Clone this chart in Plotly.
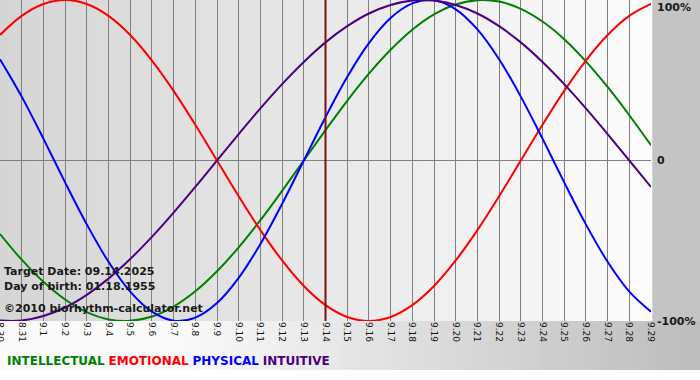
import plotly.graph_objects as go

# ---- data ----
day_labels = ["8.30", "8.31"] + [f"9.{d}" for d in range(1, 30)]
intellectual = [-45.8, -61.8, -75.6, -86.6, -94.5, -99.0, -99.9, -97.2, -91.0, -81.5, -69.0,
                -54.1, -37.2, -18.9, 0, 18.9, 37.2, 54.1, 69.0, 81.5, 91.0, 97.2, 99.9, 99.0,
                94.5, 86.6, 75.6, 61.8, 45.8, 28.2, 9.5]
emotional = [78.2, 90.1, 97.5, 100, 97.5, 90.1, 78.2, 62.3, 43.4, 22.3, 0, -22.3, -43.4,
             -62.3, -78.2, -90.1, -97.5, -100, -97.5, -90.1, -78.2, -62.3, -43.4, -22.3, 0,
             22.3, 43.4, 62.3, 78.2, 90.1, 97.5]
physical = [63.1, 39.8, 13.6, -13.6, -39.8, -63.1, -81.7, -94.2, -99.8, -97.9, -88.8, -73.1,
            -52.0, -27.0, 0, 27.0, 52.0, 73.1, 88.8, 97.9, 99.8, 94.2, 81.7, 63.1, 39.8, 13.6,
            -13.6, -39.8, -63.1, -81.7, -94.2]
intuitive = [-99.7, -99.7, -96.9, -91.6, -83.7, -73.6, -61.4, -47.6, -32.5, -16.5, 0, 16.5,
             32.5, 47.6, 61.4, 73.6, 83.7, 91.6, 96.9, 99.7, 99.7, 96.9, 91.6, 83.7, 73.6,
             61.4, 47.6, 32.5, 16.5, 0, -16.5]
target_label = "9.14"
y_labels = ["100%", "0", "-100%"]
y_vals = [100, 0, -100]

x = list(range(len(day_labels)))
target_idx = day_labels.index(target_label)

W, H = 700, 380
L, R, T, B = 0, 49, 0, 59
pw, ph = W - L - R, H - T - B

fig = go.Figure()

series = [
    ("INTELLECTUAL", intellectual, "#008000"),
    ("EMOTIONAL", emotional, "#ff0000"),
    ("PHYSICAL", physical, "#0000ff"),
    ("INTUITIVE", intuitive, "#4b0082"),
]
for name, vals, col in series:
    fig.add_trace(go.Scatter(x=x, y=vals, mode="lines", name=name,
                             line=dict(color=col, width=2, shape="spline", smoothing=1.0),
                             hoverinfo="skip", cliponaxis=True))

shapes = []
def lerp(c0, c1, t):
    return int(round(c0 + (c1 - c0) * t))

# paper gradient (bottom band + right margin), horizontal white -> gray
n = 70
x_end = W / pw
y_bot = -(370 - ph) / ph
for i in range(n):
    t = (i + 0.5) / n
    px = t * W
    if px < 180:
        g = 250
    else:
        g = lerp(250, 188, (px - 180) / (W - 180))
    shapes.append(dict(type="rect", xref="paper", yref="paper", layer="below",
                       x0=i / n * x_end, x1=(i + 1) / n * x_end + 0.002,
                       y0=y_bot, y1=1, line=dict(width=0),
                       fillcolor=f"rgb({g},{g},{g})"))
# right margin is more uniform gray
shapes.append(dict(type="rect", xref="paper", yref="paper", layer="below",
                   x0=1, x1=x_end, y0=0, y1=1, line=dict(width=0),
                   fillcolor="rgb(196,196,196)"))
# plot area gradient
m = 100
for i in range(m):
    t = (i + 0.5) / m
    g = lerp(213, 252, t)
    shapes.append(dict(type="rect", xref="paper", yref="paper", layer="below",
                       x0=i / m, x1=(i + 1) / m + 0.002, y0=0, y1=1, line=dict(width=0),
                       fillcolor=f"rgb({g},{g},{g})"))
# target date line
shapes.append(dict(type="line", xref="x", yref="paper", x0=target_idx, x1=target_idx,
                   y0=0, y1=1, line=dict(color="#7a1010", width=2), layer="above"))
fig.update_layout(shapes=shapes)

ann = []
font_b = dict(family="DejaVu Sans", size=11, color="#1a1a1a")
for txt, ypx in [("<b>Target Date: 09.14.2025</b>", 271),
                 ("<b>Day of birth: 01.18.1955</b>", 286),
                 ("<b>©2010 biorhythm-calculator.net</b>", 308)]:
    ann.append(dict(text=txt, xref="paper", yref="paper", x=2 / pw, y=1 - ypx / ph,
                    xanchor="left", yanchor="middle", showarrow=False, font=font_b))
for lab, v in zip(y_labels, y_vals):
    ya = "top" if v == 100 else "middle"
    ann.append(dict(text=f"<b>{lab}</b>", xref="paper", yref="y", x=1, y=v, xshift=4,
                    yshift=(1 if v == 100 else 0),
                    xanchor="left", yanchor=ya, showarrow=False,
                    font=dict(family="DejaVu Sans", size=11, color="#1a1a1a")))
legend_html = " ".join(f"<span style='color:{c}'><b>{n}</b></span>" for n, _, c in series)
ann.append(dict(text=legend_html, xref="paper", yref="paper", x=5 / pw, y=(ph - 361) / ph,
                xanchor="left", yanchor="middle", showarrow=False,
                font=dict(family="DejaVu Sans", size=12)))
fig.update_layout(annotations=ann)

fig.update_layout(
    width=W, height=H,
    margin=dict(l=L, r=R, t=T, b=B, pad=0, autoexpand=False),
    paper_bgcolor="white",
    plot_bgcolor="rgba(0,0,0,0)",
    showlegend=False,
    xaxis=dict(range=[0, len(x) - 1], tickmode="array", tickvals=x, ticktext=day_labels,
               tickangle=90, tickfont=dict(family="DejaVu Sans", size=9, color="#111"),
               ticklabeloverflow="allow",
               showgrid=True, gridcolor="#808080", gridwidth=1, zeroline=False,
               showline=False, ticks="", fixedrange=True, automargin=False),
    yaxis=dict(range=[-100, 100], showticklabels=False, showgrid=False,
               zeroline=True, zerolinecolor="#808080", zerolinewidth=1,
               showline=False, ticks="", fixedrange=True, automargin=False),
)

fig.write_html("out.html", config={"displayModeBar": False},
               post_script="document.body.style.margin='0';document.body.style.padding='0';")
